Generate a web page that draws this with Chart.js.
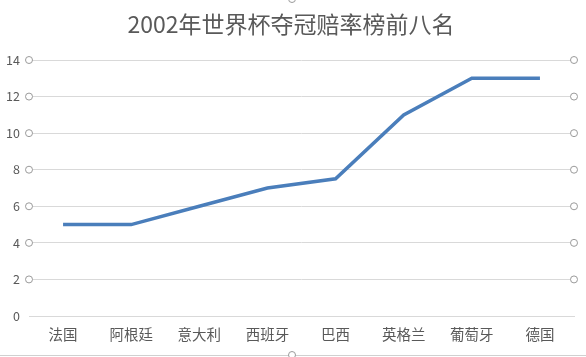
<!DOCTYPE html>
<html>
<head>
<meta charset="utf-8">
<script src="https://cdn.jsdelivr.net/npm/chart.js@4/dist/chart.umd.min.js"></script>
<style>
html,body{margin:0;padding:0;background:#fff;}
#wrap{width:586px;height:357px;position:relative;}
</style>
</head>
<body>
<div id="wrap"><canvas id="c" width="586" height="357"></canvas></div>
<script>
const titleText = "2002年世界杯夺冠赔率榜前八名";
const categories = ["法国", "阿根廷", "意大利", "西班牙", "巴西", "英格兰", "葡萄牙", "德国"];
const odds = [5, 5, 6, 7, 7.5, 11, 13, 13];
const yTicks = [0, 2, 4, 6, 8, 10, 12, 14];

const FONT = "'Noto Sans CJK SC', 'Noto Sans', sans-serif";

const titlePlugin = {
  id: 'offsetTitle',
  afterDraw(chart) {
    const ctx = chart.ctx;
    ctx.save();
    ctx.fillStyle = '#595959';
    ctx.font = "normal 23px " + FONT;
    ctx.textAlign = 'center';
    ctx.textBaseline = 'middle';
    ctx.fillText(titleText, 291, 24);
    ctx.restore();
  }
};

const handles = {
  id: 'handles',
  afterDraw(chart) {
    const ctx = chart.ctx;
    const y = chart.scales.y;
    const a = chart.chartArea;
    ctx.save();
    ctx.strokeStyle = '#9a9a9a';
    ctx.fillStyle = '#ffffff';
    ctx.lineWidth = 1;
    const circ = (x, yy) => { ctx.beginPath(); ctx.arc(x, yy, 3.5, 0, Math.PI * 2); ctx.fill(); ctx.stroke(); };
    yTicks.forEach(v => {
      if (v === 0) return;
      const py = y.getPixelForValue(v);
      circ(a.left, py);
      circ(a.right, py);
    });
    ctx.strokeStyle = '#d0d0d0';
    ctx.beginPath(); ctx.moveTo(0, 355.5); ctx.lineTo(586, 355.5); ctx.stroke();
    ctx.strokeStyle = '#9a9a9a';
    circ(292, 355);
    circ(292, -1);
    ctx.restore();
  }
};

new Chart(document.getElementById('c'), {
  type: 'line',
  data: {
    labels: categories,
    datasets: [{
      data: odds,
      borderColor: '#4a7ebb',
      borderWidth: 3.5,
      pointRadius: 0,
      tension: 0,
      fill: false
    }]
  },
  options: {
    responsive: false,
    animation: false,
    layout: { padding: { left: 0, right: 12, top: 60, bottom: 0 } },
    plugins: {
      legend: { display: false },
      tooltip: { enabled: false },
      title: { display: false }
    },
    scales: {
      x: {
        offset: true,
        grid: { display: false, drawTicks: false },
        border: { color: '#d9d9d9', width: 1 },
        ticks: { color: '#595959', font: { family: FONT, size: 14.5 }, padding: 10, maxRotation: 0 },
        afterFit(s) { s.height = 41; }
      },
      y: {
        min: 0, max: 14,
        afterBuildTicks(s) { s.ticks = yTicks.map(v => ({ value: v })); },
        grid: { color: '#d9d9d9', drawTicks: false },
        border: { display: false },
        ticks: { color: '#595959', font: { family: FONT, size: 12.5 }, padding: 9 },
        afterFit(s) { s.width = 29; }
      }
    }
  },
  plugins: [handles, titlePlugin]
});
</script>
</body>
</html>
